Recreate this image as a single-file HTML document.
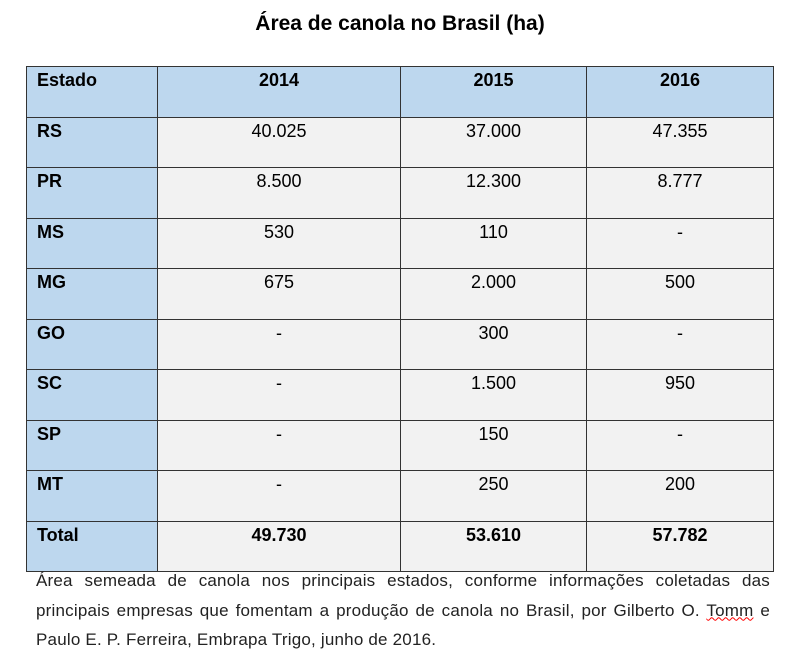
<!DOCTYPE html>
<html><head><meta charset="utf-8"><style>
body{margin:0;width:800px;height:665px;background:#fff;font-family:"Liberation Sans",Arial,sans-serif;color:#000;position:relative;overflow:hidden}
h1{position:absolute;top:12px;left:0;width:800px;text-align:center;font-size:21px;font-weight:bold;margin:0}
table{position:absolute;left:26px;top:66px;border-collapse:collapse;table-layout:fixed}
td{border:1.5px solid #333;height:48.5px;padding:0;vertical-align:top;font-size:18px;text-align:center;background:#f2f2f2;line-height:24px;padding-top:1px}
td.h{background:#bdd7ee}
td.l{background:#bdd7ee;text-align:left;padding-left:10px;font-weight:bold}
tr.b td{font-weight:bold}
.cap{position:absolute;left:36px;top:566px;width:734px;font-size:17px;letter-spacing:0.2px;line-height:29.5px;color:#222}
.cap div{text-align:justify;text-align-last:justify;white-space:nowrap}
.cap div.last{text-align-last:left}
.u{text-decoration:underline wavy red;text-decoration-thickness:1px}
</style></head><body>
<h1>Área de canola no Brasil (ha)</h1>
<table>
<colgroup><col style="width:131px"><col style="width:243px"><col style="width:186px"><col style="width:187px"></colgroup>
<tr class="b"><td class="l">Estado</td><td class="h">2014</td><td class="h">2015</td><td class="h">2016</td></tr>
<tr><td class="l">RS</td><td>40.025</td><td>37.000</td><td>47.355</td></tr>
<tr><td class="l">PR</td><td>8.500</td><td>12.300</td><td>8.777</td></tr>
<tr><td class="l">MS</td><td>530</td><td>110</td><td>-</td></tr>
<tr><td class="l">MG</td><td>675</td><td>2.000</td><td>500</td></tr>
<tr><td class="l">GO</td><td>-</td><td>300</td><td>-</td></tr>
<tr><td class="l">SC</td><td>-</td><td>1.500</td><td>950</td></tr>
<tr><td class="l">SP</td><td>-</td><td>150</td><td>-</td></tr>
<tr><td class="l">MT</td><td>-</td><td>250</td><td>200</td></tr>
<tr class="b"><td class="l">Total</td><td>49.730</td><td>53.610</td><td>57.782</td></tr>
</table>
<div class="cap">
<div>Área semeada de canola nos principais estados, conforme informações coletadas das</div>
<div>principais empresas que fomentam a produção de canola no Brasil, por Gilberto O. <span class="u">Tomm</span> e</div>
<div class="last">Paulo E. P. Ferreira, Embrapa Trigo, junho de 2016.</div>
</div>
</body></html>
